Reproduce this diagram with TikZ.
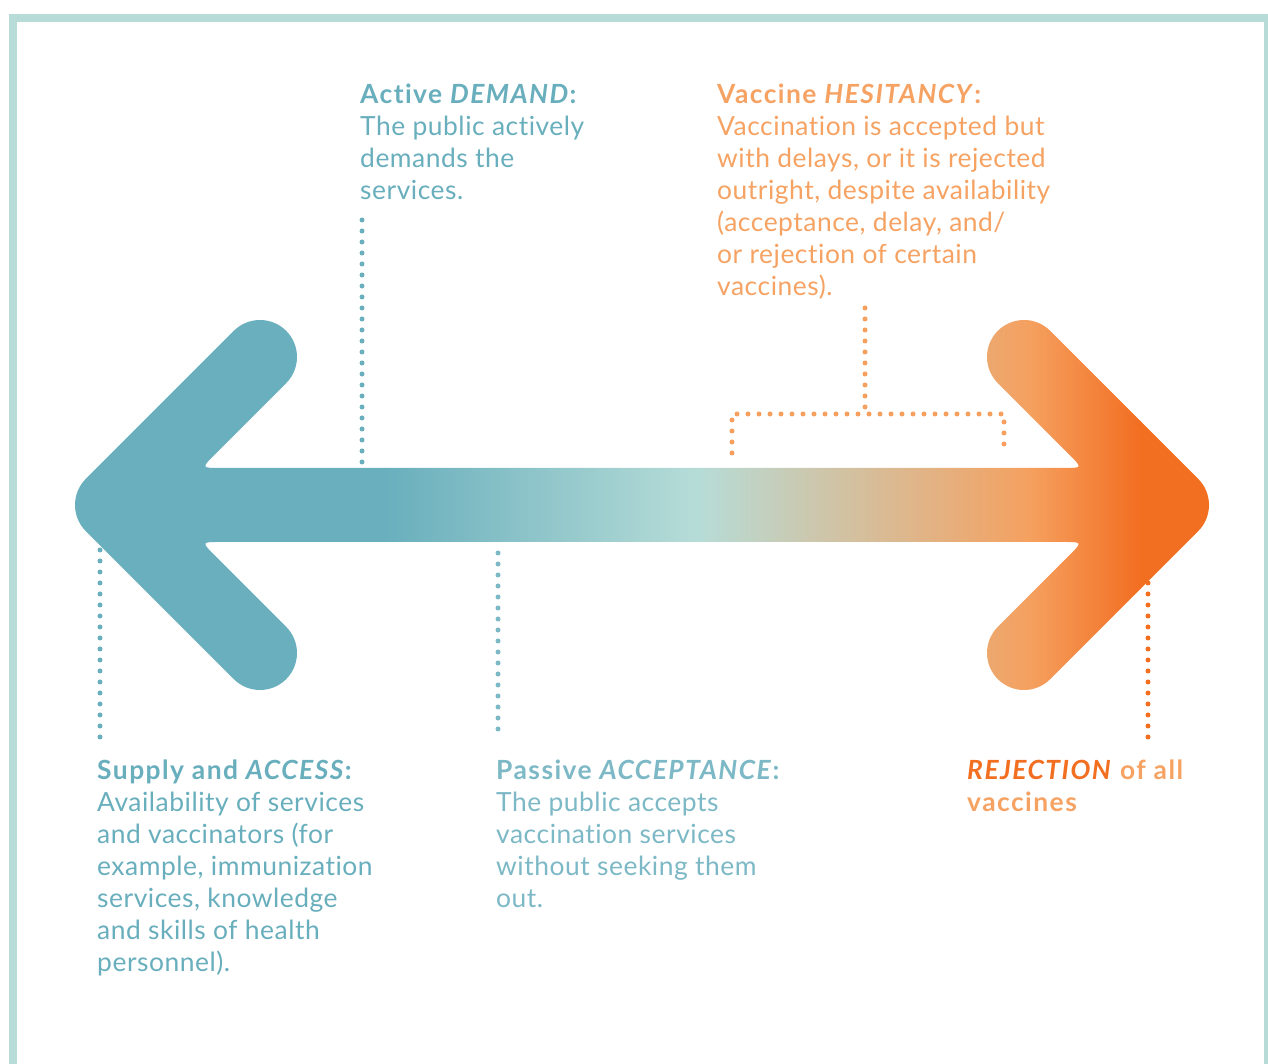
\documentclass[tikz,border=0pt]{standalone}
\usepackage{fontspec}
\setmainfont{Lato}[Ligatures=CommonOff, RawFeature={-liga;-clig;-dlig}, LetterSpace=2, BoldFeatures={LetterSpace=5.5}, BoldItalicFeatures={LetterSpace=5.5}]
\usepackage{tikz}

\definecolor{framecol}{HTML}{B7DCD8}
\definecolor{vteal}{HTML}{69AFBD}
\definecolor{vtealtext}{HTML}{68AEBC}
\definecolor{vpass}{HTML}{7CB8C5}
\definecolor{vlight}{HTML}{B6DCD7}
\definecolor{vpeach}{HTML}{F5A05F}
\definecolor{vpeachtext}{HTML}{F5A263}
\definecolor{vorange}{HTML}{F26E21}

\begin{document}
\begin{tikzpicture}[x=1pt, y=1pt,
  dotline/.style={line width=5pt, line cap=round, dash pattern=on 0pt off 11pt},
  note/.style={anchor=north west, align=left, inner sep=0pt, font=\fontsize{26.4}{32}\selectfont}]
\useasboundingbox (0,0) rectangle (1268,1064);
\clip (0,0) rectangle (1268,1064);

% frame, open at the bottom
\draw[framecol, line width=8pt] (13,-20) -- (13,1046) -- (1268,1046) -- (1268,-20);

% double arrow, shaded from left to right
\begin{scope}
\clip (642,596) -- (220.63,596) .. controls (201.33,596) .. (214.98,609.65)
  -- (286.16,680.84) arc[start angle=-45, end angle=135, radius=37]
  -- (85.84,585.16) arc[start angle=135, end angle=225, radius=37]
  -- (233.84,384.84) arc[start angle=225, end angle=405, radius=37]
  -- (214.98,508.35) .. controls (201.33,522) .. (220.63,522)
  -- (1063.37,522) .. controls (1082.67,522) .. (1069.02,508.35)
  -- (997.84,437.16) arc[start angle=135, end angle=315, radius=37]
  -- (1198.16,532.84) arc[start angle=-45, end angle=45, radius=37]
  -- (1050.16,733.16) arc[start angle=45, end angle=225, radius=37]
  -- (1069.02,609.65) .. controls (1082.67,596) .. (1063.37,596) -- cycle;
\fill[vteal] (60,360) rectangle (386,760);
\shade[left color=vteal, right color=vlight] (385,360) rectangle (698,760);
\shade[left color=vlight, right color=vpeach] (697,360) rectangle (1031,760);
\shade[left color=vpeach, right color=vorange] (1030,360) rectangle (1141,760);
\fill[vorange] (1140,360) rectangle (1220,760);
\end{scope}

% texts
\node[note, text=vtealtext] (demand) at (360,980)
  {\textbf{Active \textit{DEMAND}:}\\The public actively\\demands the\\services.};
\node[note, text=vpeachtext] (hesitancy) at (717,980)
  {\textbf{Vaccine \textit{HESITANCY}:}\\Vaccination is accepted but\\with delays, or it is rejected\\outright, despite availability\\(acceptance, delay, and/\\or rejection of certain\\vaccines).};
\node[note, text=vtealtext] (access) at (97,304)
  {\textbf{Supply and \textit{ACCESS}:}\\Availability of services\\and vaccinators (for\\example, immunization\\services, knowledge\\and skills of health\\personnel).};
\node[note, text=vpass] (passive) at (496,304)
  {\textbf{Passive \textit{ACCEPTANCE}:}\\The public accepts\\vaccination services\\without seeking them\\out.};
\node[note, text=vpeachtext] (rejection) at (967,304)
  {\textbf{\textcolor{vorange}{\textit{REJECTION}} of all}\\\textbf{vaccines}};

% dotted leaders
\coordinate (demandtop) at (362,844);
\coordinate (demandend) at (362,598);
\coordinate (hestop) at (865,756);
\coordinate (hesmid) at (865,650);
\coordinate (hesleft) at (732,650);
\coordinate (hesright) at (1004,650);
\coordinate (hesleftend) at (732,611);
\coordinate (hesrightend) at (1004,611);
\coordinate (accesstop) at (100,514);
\coordinate (accessend) at (100,324);
\coordinate (passivetop) at (498,511);
\coordinate (passiveend) at (498,324);
\coordinate (rejecttop) at (1148,481);
\coordinate (rejectend) at (1148,322);

\draw[dotline, vteal] (demandtop) -- (demandend);
\draw[dotline, vpeach] (hestop) -- (hesmid);
\draw[dotline, vpeach] (hesleftend) -- (hesleft) -- (hesright) -- (hesrightend);
\draw[dotline, vteal] (accesstop) -- (accessend);
\draw[dotline, vpass] (passivetop) -- (passiveend);
\draw[dotline, vorange] (rejecttop) -- (rejectend);

\end{tikzpicture}
\end{document}
